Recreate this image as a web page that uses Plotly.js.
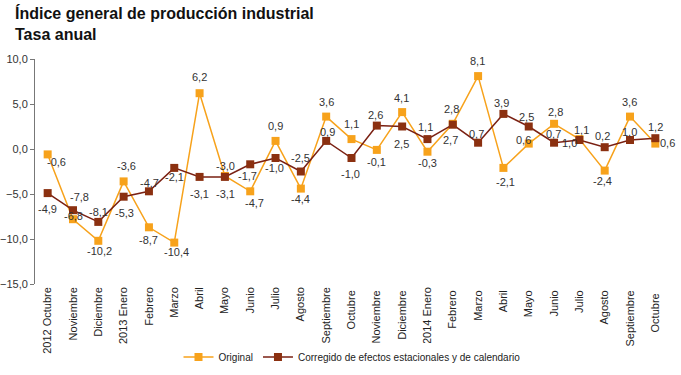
<!DOCTYPE html>
<html>
<head>
<meta charset="utf-8">
<script src="https://cdn.plot.ly/plotly-3.0.1.min.js"></script>
<style>html,body{margin:0;padding:0;background:#fff;}#chart{width:681px;height:375px;}</style>
</head>
<body>
<div id="chart"></div>
<script>
const months = ["2012 Octubre","Noviembre","Diciembre","2013 Enero","Febrero","Marzo","Abril","Mayo","Junio","Julio","Agosto","Septiembre","Octubre ","Noviembre ","Diciembre ","2014 Enero","Febrero ","Marzo ","Abril ","Mayo ","Junio ","Julio ","Agosto ","Septiembre ","Octubre  "];
const original = [-0.6,-7.8,-10.2,-3.6,-8.7,-10.4,6.2,-3.0,-4.7,0.9,-4.4,3.6,1.1,-0.1,4.1,-0.3,2.8,8.1,-2.1,0.6,2.8,1.1,-2.4,3.6,0.6];
const corregido = [-4.9,-6.8,-8.1,-5.3,-4.7,-2.1,-3.1,-3.1,-1.7,-1.0,-2.5,0.9,-1.0,2.6,2.5,1.1,2.7,0.7,3.9,2.5,0.7,1.0,0.2,1.0,1.2];
const yTicks = [-15,-10,-5,0,5,10];
const titleLines = ["Índice general de producción industrial", "Tasa anual"];

// label offsets in pixels (style only): [dx, dy(down)]
const offOrig = [[9,8],[7,-22],[1,10],[3,-15],[0,13],[2,9],[0,-16],[1,-10],[4,12],[0,-15],[0,10],[0,-15],[0,-15],[0,12],[-1,-14],[0,11],[-1,-15],[-1,-15],[2,14],[-5,-4],[1,-12],[2,-9],[-2,10],[-1,-15],[12,-1]];
const offCorr = [[0,16],[1,5.5],[0,-10],[1,16],[1,-8],[0,9],[0,17],[1,17],[-3,12],[-1,10],[0,-14],[1,-9],[-1,16],[-1,-11],[-1,17],[-2,-12],[-2,15],[-2,-9],[-2,-11],[-2,-10],[-1,-9],[-10,3],[-2,-11],[-1,-8],[0,-11]];

const FONT = "Liberation Sans, Arial, sans-serif";
const cOrange = "#F7A21B";
const cDark = "#8B3010";
const fmt = v => v.toFixed(1).replace('.', ',');

const traces = [
  {x: months, y: original, type: 'scatter', mode: 'lines+markers', name: 'Original',
   line: {color: cOrange, width: 1.5}, marker: {symbol: 'square', size: 8, color: cOrange}},
  {x: months, y: corregido, type: 'scatter', mode: 'lines+markers', name: 'Corregido de efectos estacionales y de calendario',
   line: {color: '#7A2012', width: 1.5}, marker: {symbol: 'square', size: 8, color: cDark}}
];

const annotations = [];
original.forEach((v, i) => annotations.push({x: months[i], y: v, xref: 'x', yref: 'y', text: fmt(v), showarrow: false,
  xshift: offOrig[i][0], yshift: -offOrig[i][1], font: {family: FONT, size: 11, color: '#333'}}));
corregido.forEach((v, i) => annotations.push({x: months[i], y: v, xref: 'x', yref: 'y', text: fmt(v), showarrow: false,
  xshift: offCorr[i][0], yshift: -offCorr[i][1], font: {family: FONT, size: 11, color: '#333'}}));
annotations.push({xref: 'paper', yref: 'paper', x: -22/633, y: 1 + 57/225, xanchor: 'left', yanchor: 'top', align: 'left',
  showarrow: false, text: '<b>' + titleLines.join('<br>') + '</b>', font: {family: FONT, size: 16, color: '#111'}});

const layout = {
  width: 681, height: 375,
  margin: {l: 35, r: 13, t: 59, b: 91},
  paper_bgcolor: '#fff', plot_bgcolor: '#fff',
  separators: ',.',
  font: {family: FONT, size: 11, color: '#333'},
  xaxis: {type: 'category', range: [-0.5, 24.5], showline: false, ticks: '', showgrid: false, zeroline: false, automargin: false,
          tickangle: -90, tickfont: {family: FONT, size: 11, color: '#222'}, fixedrange: true},
  xaxis2: {overlaying: 'x', anchor: 'free', position: 0.6, type: 'linear', range: [-0.5, 24.5], tick0: -0.5, dtick: 1,
           ticks: 'outside', ticklen: 4, tickcolor: '#777', showline: true, linecolor: '#777', linewidth: 1, automargin: false,
           showticklabels: false, showgrid: false, zeroline: false},
  yaxis: {range: [-15, 10], tickvals: yTicks, tickformat: '.1f', showline: true, linecolor: '#777', linewidth: 1, automargin: false,
          ticks: 'outside', ticklen: 4, tickcolor: '#777', showgrid: false, zeroline: false,
          tickfont: {family: FONT, size: 11, color: '#333'}},
  showlegend: true,
  legend: {orientation: 'h', xref: 'container', yref: 'container', x: 352/681, xanchor: 'center', y: 1 - 357/375, yanchor: 'middle',
           font: {family: FONT, size: 10, color: '#222'}, itemwidth: 30},
  annotations: annotations
};

Plotly.newPlot('chart', traces, layout, {displayModeBar: false, staticPlot: true});
</script>
</body>
</html>
